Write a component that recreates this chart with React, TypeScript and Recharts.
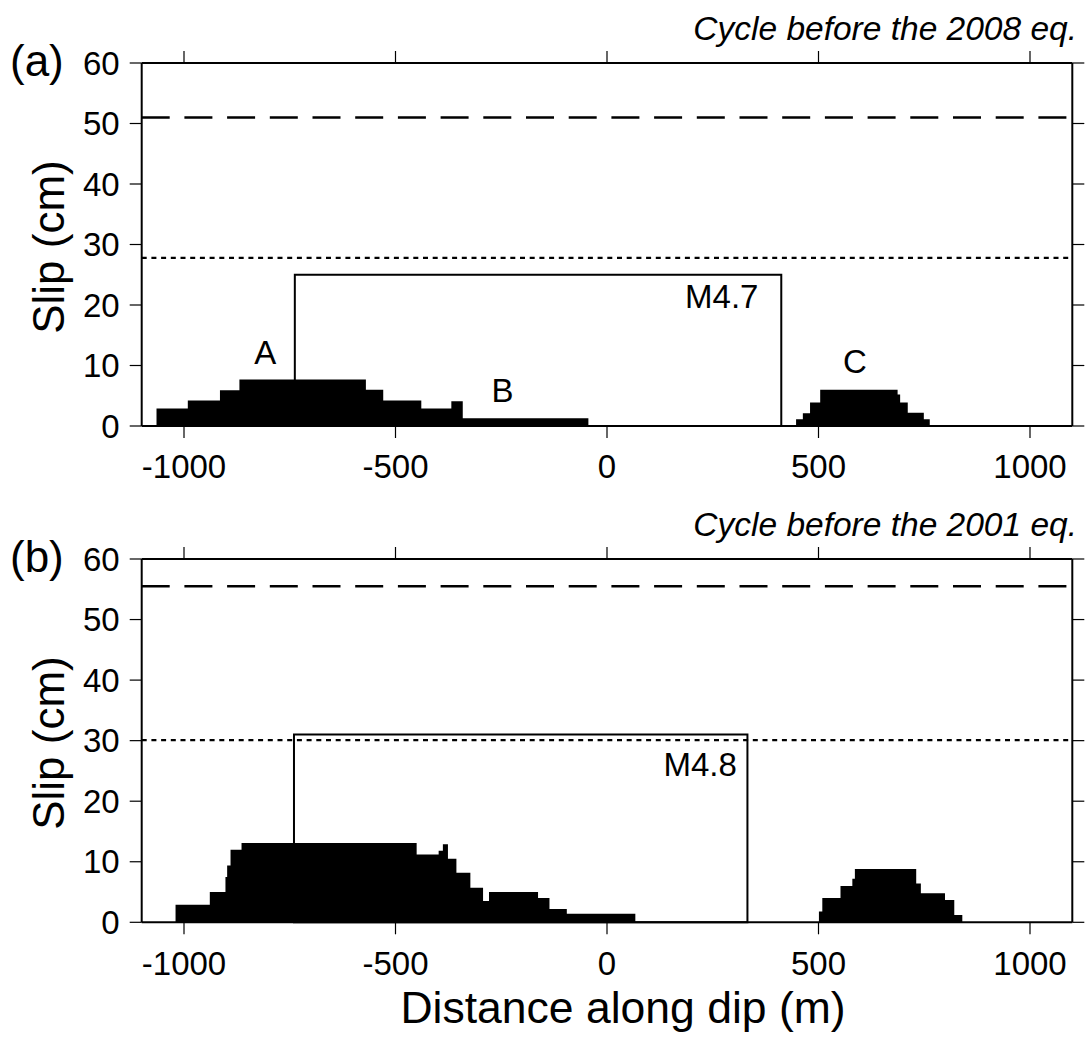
import React from 'react';
import {
  ComposedChart,
  Area,
  Line,
  XAxis,
  YAxis,
  ReferenceLine,
  ReferenceArea,
  ReferenceDot,
} from 'recharts';

// ---- shared axis ticks ----
const ticksX = [-1000, -500, 0, 500, 1000];
const ticksY = [0, 10, 20, 30, 40, 50, 60];
const domainX: [number, number] = [-1100, 1100];
const domainY: [number, number] = [0, 60];

// ---- panel (a): cycle before the 2008 eq. ----
const distA = [-1065, -991, -915, -869, -570, -529, -439, -368, -341, -44, 447, 463, 480, 504, 687, 693, 711, 749, 763];
const slipA = [2.9, 4.2, 5.9, 7.7, 6.0, 4.2, 2.9, 4.1, 1.3, 0, 1.1, 2.1, 3.9, 6.0, 5.2, 3.9, 2.2, 1.1, 0];
const ruptureA = [-738, 412];
const ruptureSlipA = 25.0;
const dashedA = 51.0;
const dottedA = 27.8;
const labelTextA = ['A', 'B', 'C', 'M4.7'];
const labelXA = [-808, -247, 586, 358];
const labelYA = [12.2, 5.9, 10.7, 21.5];

// ---- panel (b): cycle before the 2001 eq. ----
const distB = [-1020, -939, -902, -898, -890, -864, -450, -398, -388, -376, -356, -323, -293, -279, -163, -136, -95, 67, 501, 509, 552, 580, 586, 731, 742, 799, 821, 840];
const slipB = [2.9, 5.0, 7.5, 9.4, 12.0, 13.1, 11.2, 11.8, 12.9, 10.5, 8.2, 5.7, 3.5, 5.0, 4.0, 2.2, 1.4, 0, 1.8, 4.0, 6.0, 7.2, 8.8, 6.4, 4.8, 3.7, 1.2, 0];
const ruptureB = [-740, 332];
const ruptureSlipB = 31.0;
const dashedB = 55.5;
const dottedB = 30.1;
const labelTextB = ['M4.8'];
const labelXB = [307];
const labelYB = [26.1];

const FONT = '"Liberation Sans", Arial, Helvetica, sans-serif';
const blank = () => '';

type PanelProps = {
  dist: number[];
  slip: number[];
  rupture: number[];
  ruptureSlip: number;
  dashed: number;
  dotted: number;
  labelText: string[];
  labelX: number[];
  labelY: number[];
  height: number;
  marginBottom: number;
  title: string;
  letter: string;
  xLabel?: string;
};

function Panel(p: PanelProps) {
  const data = p.dist.map((x, i) => ({ x, y: p.slip[i] }));
  const axisLine = { stroke: '#000', strokeWidth: 2 };
  const tickLine = { stroke: '#000', strokeWidth: 1.2 };
  const tickStyle = { fontSize: 33, fill: '#000', fontFamily: FONT };
  return (
    <ComposedChart
      width={1085}
      height={p.height}
      data={data}
      margin={{ top: 62, right: 11.7, bottom: p.marginBottom, left: 41.7 }}
      style={{ display: 'block' }}
    >
      <XAxis
        xAxisId="b"
        type="number"
        dataKey="x"
        domain={domainX}
        ticks={ticksX}
        interval={0}
        allowDataOverflow
        height={60}
        tickSize={12}
        tickMargin={17}
        axisLine={axisLine}
        tickLine={tickLine}
        tick={tickStyle}
      />
      <XAxis
        xAxisId="t"
        orientation="top"
        type="number"
        dataKey="x"
        domain={domainX}
        ticks={ticksX}
        interval={0}
        allowDataOverflow
        height={1}
        tickSize={12}
        axisLine={axisLine}
        tickLine={tickLine}
        tickFormatter={blank}
        tick={{ fontSize: 1, fill: 'none' }}
      />
      <YAxis
        yAxisId="l"
        type="number"
        domain={domainY}
        ticks={ticksY}
        interval={0}
        allowDataOverflow
        width={100}
        tickSize={12}
        tickMargin={10}
        axisLine={axisLine}
        tickLine={tickLine}
        tick={tickStyle}
      />
      <YAxis
        yAxisId="r"
        orientation="right"
        type="number"
        domain={domainY}
        ticks={ticksY}
        interval={0}
        allowDataOverflow
        width={1}
        tickSize={12}
        axisLine={axisLine}
        tickLine={tickLine}
        tickFormatter={blank}
        tick={{ fontSize: 1, fill: 'none' }}
      />
      <ReferenceLine
        xAxisId="b"
        yAxisId="l"
        y={p.dashed}
        stroke="#000"
        strokeWidth={2.5}
        strokeDasharray="28 14.7"
      />
      <ReferenceLine
        xAxisId="b"
        yAxisId="l"
        y={p.dotted}
        stroke="#000"
        strokeWidth={2.3}
        strokeDasharray="5 4.7"
      />
      <Area
        xAxisId="b"
        yAxisId="l"
        type="stepAfter"
        dataKey="y"
        stroke="none"
        fill="#000"
        fillOpacity={1}
        dot={false}
        activeDot={false}
        isAnimationActive={false}
      />
      <Line
        xAxisId="t"
        yAxisId="r"
        type="stepAfter"
        dataKey="y"
        stroke="none"
        strokeWidth={0}
        dot={false}
        activeDot={false}
        legendType="none"
        isAnimationActive={false}
      />
      <ReferenceArea
        xAxisId="b"
        yAxisId="l"
        x1={p.rupture[0]}
        x2={p.rupture[1]}
        y1={0}
        y2={p.ruptureSlip}
        fill="none"
        fillOpacity={0}
        stroke="#000"
        strokeWidth={2}
      />
      {p.labelText.map((t, i) => (
        <ReferenceDot
          key={t}
          xAxisId="b"
          yAxisId="l"
          x={p.labelX[i]}
          y={p.labelY[i]}
          r={0}
          fill="none"
          stroke="none"
          label={{
            value: t,
            position: t.startsWith('M') ? 'left' : 'center',
            offset: 0,
            fontSize: 33,
            fill: '#000',
            fontFamily: FONT,
          }}
        />
      ))}
      <text
        x={1077}
        y={40}
        textAnchor="end"
        fontSize={33.5}
        fontStyle="italic"
        fontFamily={FONT}
        fill="#000"
      >
        {p.title}
      </text>
      <text x={10} y={76} fontSize={44} fontFamily={FONT} fill="#000">
        {p.letter}
      </text>
      <text
        x={64}
        y={247}
        transform="rotate(-90 64 247)"
        textAnchor="middle"
        fontSize={44}
        fontFamily={FONT}
        fill="#000"
      >
        Slip (cm)
      </text>
      {p.xLabel ? (
        <text x={623} y={527.3} textAnchor="middle" fontSize={44.5} fontFamily={FONT} fill="#000">
          {p.xLabel}
        </text>
      ) : null}
    </ComposedChart>
  );
}

export default function App() {
  return (
    <div
      style={{
        position: 'absolute',
        left: 0,
        top: 0,
        width: 1085,
        height: 1039,
        background: '#fff',
        overflow: 'hidden',
      }}
    >
      <Panel
        dist={distA}
        slip={slipA}
        rupture={ruptureA}
        ruptureSlip={ruptureSlipA}
        dashed={dashedA}
        dotted={dottedA}
        labelText={labelTextA}
        labelX={labelXA}
        labelY={labelYA}
        height={496}
        marginBottom={10}
        title="Cycle before the 2008 eq."
        letter="(a)"
      />
      <Panel
        dist={distB}
        slip={slipB}
        rupture={ruptureB}
        ruptureSlip={ruptureSlipB}
        dashed={dashedB}
        dotted={dottedB}
        labelText={labelTextB}
        labelX={labelXB}
        labelY={labelYB}
        height={543}
        marginBottom={56.7}
        title="Cycle before the 2001 eq."
        letter="(b)"
        xLabel="Distance along dip (m)"
      />
    </div>
  );
}
